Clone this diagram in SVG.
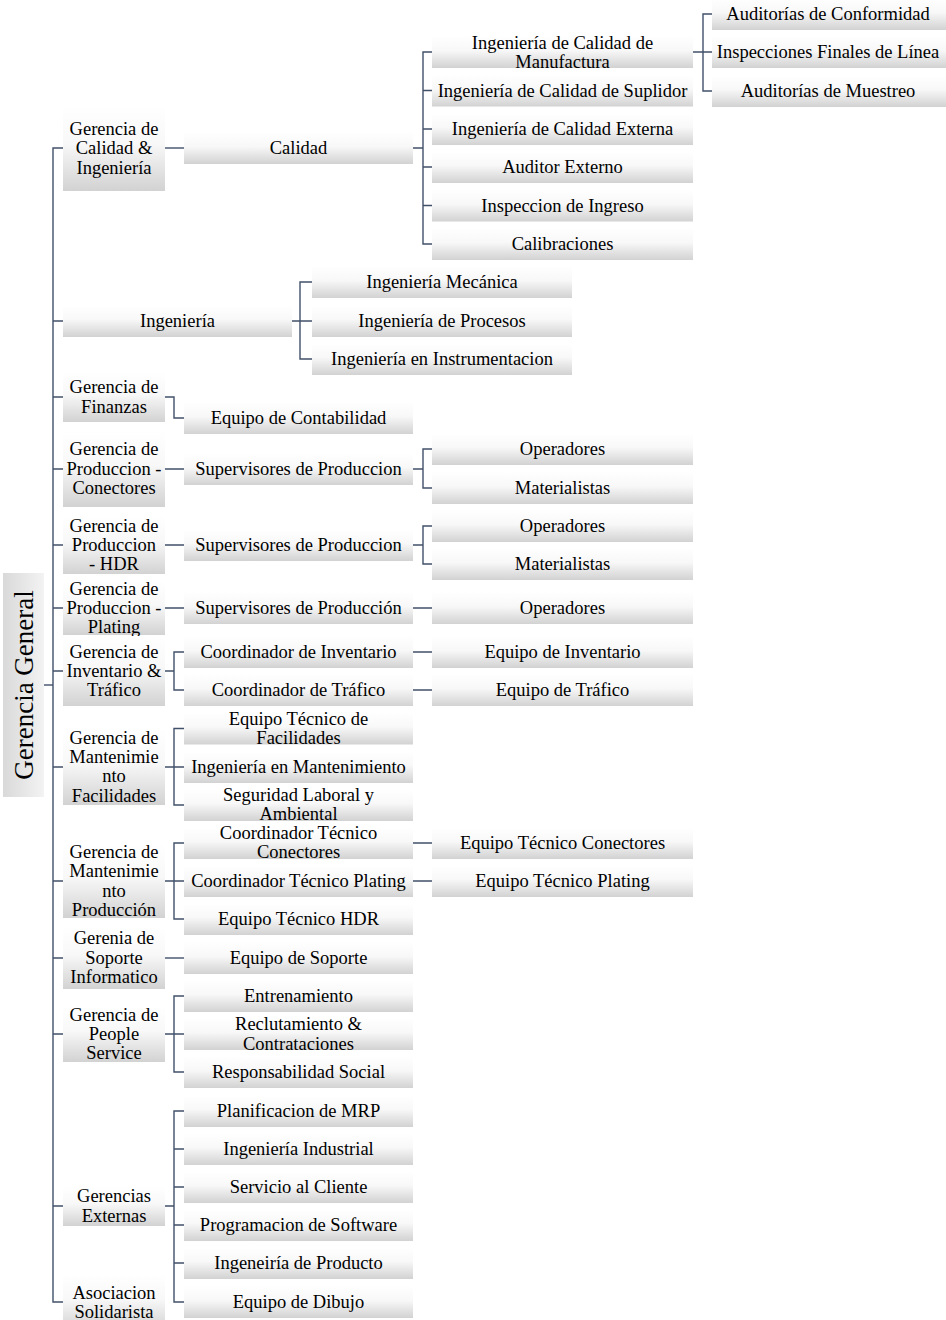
<svg xmlns="http://www.w3.org/2000/svg" width="946" height="1320" viewBox="0 0 946 1320">
  <defs>
    <linearGradient id="boxFill" x1="0" y1="0" x2="0" y2="1">
      <stop offset="0" stop-color="#ffffff"/>
      <stop offset="0.45" stop-color="#f8f8f8"/>
      <stop offset="1" stop-color="#d2d2d2"/>
    </linearGradient>
    <linearGradient id="rootFill" x1="0" y1="0" x2="1" y2="0">
      <stop offset="0" stop-color="#d9d9d9"/>
      <stop offset="1" stop-color="#f3f3f3"/>
    </linearGradient>
    <style>
      .box { fill: url(#boxFill); }
      .root { fill: url(#rootFill); }
      .t { font-family: "Liberation Serif", "Times New Roman", serif; font-size: 18.5px; fill: #000; text-anchor: middle; }
      .rt { font-family: "Liberation Serif", "Times New Roman", serif; font-size: 27px; fill: #000; text-anchor: middle; }
      .c { stroke: #41506a; stroke-width: 1.4; fill: none; }
    </style>
  </defs>
  <rect width="946" height="1320" fill="#ffffff"/>

  <!-- connectors -->
  <g id="connectors" class="c">
    <path d="M44,685 H53"/>
    <path d="M63,148 H53 V1302 H63"/>
    <path d="M53,321 H63 M53,397 H63 M53,469 H63 M53,545 H63 M53,608 H63 M53,671 H63 M53,767 H63 M53,881 H63 M53,958 H63 M53,1034 H63 M53,1206 H63"/>
    <!-- Calidad branch -->
    <path d="M165,148 H184"/>
    <path d="M413,148 H423 M432,52 H423 V244 H432 M423,90.5 H432 M423,129 H432 M423,167 H432 M423,205.5 H432"/>
    <path d="M693,52 H703 M712,14 H703 V91 H712 M703,52 H712"/>
    <!-- Ingenieria -->
    <path d="M292,321 H300 M312,282 H300 V359 H312 M300,321 H312"/>
    <!-- Finanzas -->
    <path d="M165,397 H174 V418 H184"/>
    <!-- Produccion Conectores -->
    <path d="M165,469 H184 M413,469 H423 M432,449 H423 V488 H432"/>
    <!-- Produccion HDR -->
    <path d="M165,545 H184 M413,545 H423 M432,526 H423 V564 H432"/>
    <!-- Produccion Plating -->
    <path d="M165,608 H184 M413,608 H432"/>
    <!-- Inventario y Trafico -->
    <path d="M165,671 H174 M184,652 H174 V690 H184 M413,652 H432 M413,690 H432"/>
    <!-- Mantenimiento Facilidades -->
    <path d="M165,767 H184 M184,728.5 H174 V805 H184"/>
    <!-- Mantenimiento Produccion -->
    <path d="M165,881 H184 M184,843 H174 V919 H184 M413,843 H432 M413,881 H432"/>
    <!-- Soporte -->
    <path d="M165,958 H184"/>
    <!-- People Service -->
    <path d="M165,1034 H184 M184,996 H174 V1072 H184"/>
    <!-- Gerencias Externas -->
    <path d="M165,1206 H174 M184,1111 H174 V1302 H184 M174,1149 H184 M174,1187 H184 M174,1225 H184 M174,1263 H184"/>
  </g>

  <!-- root -->
  <g id="n-gerencia-general">
    <rect class="root" x="3" y="573" width="41" height="224"/>
    <text class="rt" transform="translate(23.5,685) rotate(-90)" x="0" y="9">Gerencia General</text>
  </g>

  <!-- level 1 -->
  <g id="n-calidad-ingenieria">
    <rect class="box" x="63" y="105" width="102" height="86"/>
    <text class="t" x="114"><tspan x="114" y="135">Gerencia de</tspan><tspan x="114" y="154">Calidad &amp;</tspan><tspan x="114" y="174">Ingeniería</tspan></text>
  </g>
  <g id="n-ingenieria">
    <rect class="box" x="63" y="305" width="229" height="32"/>
    <text class="t" x="177.5" y="327">Ingeniería</text>
  </g>
  <g id="n-finanzas">
    <rect class="box" x="63" y="372" width="102" height="50"/>
    <text class="t"><tspan x="114" y="393">Gerencia de</tspan><tspan x="114" y="413">Finanzas</tspan></text>
  </g>
  <g id="n-prod-conectores">
    <rect class="box" x="63" y="431" width="102" height="76"/>
    <text class="t"><tspan x="114" y="455">Gerencia de</tspan><tspan x="114" y="475">Produccion -</tspan><tspan x="114" y="494">Conectores</tspan></text>
  </g>
  <g id="n-prod-hdr">
    <rect class="box" x="63" y="516" width="102" height="58"/>
    <text class="t"><tspan x="114" y="532">Gerencia de</tspan><tspan x="114" y="551">Produccion</tspan><tspan x="114" y="570">- HDR</tspan></text>
  </g>
  <g id="n-prod-plating">
    <rect class="box" x="63" y="581" width="102" height="54"/>
    <text class="t"><tspan x="114" y="595">Gerencia de</tspan><tspan x="114" y="614">Produccion -</tspan><tspan x="114" y="633">Plating</tspan></text>
  </g>
  <g id="n-inventario-trafico">
    <rect class="box" x="63" y="636" width="102" height="70"/>
    <text class="t"><tspan x="114" y="658">Gerencia de</tspan><tspan x="114" y="677">Inventario &amp;</tspan><tspan x="114" y="696">Tráfico</tspan></text>
  </g>
  <g id="n-mant-facilidades">
    <rect class="box" x="63" y="729" width="102" height="76"/>
    <text class="t"><tspan x="114" y="744">Gerencia de</tspan><tspan x="114" y="763">Mantenimie</tspan><tspan x="114" y="782">nto</tspan><tspan x="114" y="802">Facilidades</tspan></text>
  </g>
  <g id="n-mant-produccion">
    <rect class="box" x="63" y="844" width="102" height="74"/>
    <text class="t"><tspan x="114" y="858">Gerencia de</tspan><tspan x="114" y="877">Mantenimie</tspan><tspan x="114" y="897">nto</tspan><tspan x="114" y="916">Producción</tspan></text>
  </g>
  <g id="n-soporte">
    <rect class="box" x="63" y="927" width="102" height="62"/>
    <text class="t"><tspan x="114" y="944">Gerenia de</tspan><tspan x="114" y="964">Soporte</tspan><tspan x="114" y="983">Informatico</tspan></text>
  </g>
  <g id="n-people">
    <rect class="box" x="63" y="1006" width="102" height="56"/>
    <text class="t"><tspan x="114" y="1021">Gerencia de</tspan><tspan x="114" y="1040">People</tspan><tspan x="114" y="1059">Service</tspan></text>
  </g>
  <g id="n-externas">
    <rect class="box" x="63" y="1186" width="102" height="40"/>
    <text class="t"><tspan x="114" y="1202">Gerencias</tspan><tspan x="114" y="1222">Externas</tspan></text>
  </g>
  <g id="n-asociacion">
    <rect class="box" x="63" y="1274" width="102" height="56"/>
    <text class="t"><tspan x="114" y="1299">Asociacion</tspan><tspan x="114" y="1318">Solidarista</tspan></text>
  </g>

  <!-- level 2 -->
  <g id="n-calidad"><rect class="box" x="184" y="132" width="229" height="32"/><text class="t" x="298.5" y="154">Calidad</text></g>
  <g id="n-ing-mecanica"><rect class="box" x="312" y="266" width="260" height="32"/><text class="t" x="442" y="288">Ingeniería Mecánica</text></g>
  <g id="n-ing-procesos"><rect class="box" x="312" y="305" width="260" height="32"/><text class="t" x="442" y="327">Ingeniería de Procesos</text></g>
  <g id="n-ing-instrumentacion"><rect class="box" x="312" y="343" width="260" height="32"/><text class="t" x="442" y="365">Ingeniería en Instrumentacion</text></g>
  <g id="n-contabilidad"><rect class="box" x="184" y="402" width="229" height="32"/><text class="t" x="298.5" y="424">Equipo de Contabilidad</text></g>
  <g id="n-sup-conectores"><rect class="box" x="184" y="453" width="229" height="32"/><text class="t" x="298.5" y="475">Supervisores de Produccion</text></g>
  <g id="n-sup-hdr"><rect class="box" x="184" y="529" width="229" height="32"/><text class="t" x="298.5" y="551">Supervisores de Produccion</text></g>
  <g id="n-sup-plating"><rect class="box" x="184" y="592" width="229" height="32"/><text class="t" x="298.5" y="614">Supervisores de Producción</text></g>
  <g id="n-coord-inventario"><rect class="box" x="184" y="636" width="229" height="32"/><text class="t" x="298.5" y="658">Coordinador de Inventario</text></g>
  <g id="n-coord-trafico"><rect class="box" x="184" y="674" width="229" height="32"/><text class="t" x="298.5" y="696">Coordinador de Tráfico</text></g>
  <g id="n-eq-facilidades"><rect class="box" x="184" y="712.5" width="229" height="32"/><text class="t"><tspan x="298.5" y="725">Equipo Técnico de</tspan><tspan x="298.5" y="744">Facilidades</tspan></text></g>
  <g id="n-ing-mantenimiento"><rect class="box" x="184" y="751" width="229" height="32"/><text class="t" x="298.5" y="773">Ingeniería en Mantenimiento</text></g>
  <g id="n-seguridad"><rect class="box" x="184" y="789" width="229" height="32"/><text class="t"><tspan x="298.5" y="801">Seguridad Laboral y</tspan><tspan x="298.5" y="820">Ambiental</tspan></text></g>
  <g id="n-coord-conectores"><rect class="box" x="184" y="827" width="229" height="32"/><text class="t"><tspan x="298.5" y="839">Coordinador Técnico</tspan><tspan x="298.5" y="858">Conectores</tspan></text></g>
  <g id="n-coord-plating"><rect class="box" x="184" y="865" width="229" height="32"/><text class="t" x="298.5" y="887">Coordinador Técnico Plating</text></g>
  <g id="n-eq-hdr"><rect class="box" x="184" y="903" width="229" height="32"/><text class="t" x="298.5" y="925">Equipo Técnico HDR</text></g>
  <g id="n-eq-soporte"><rect class="box" x="184" y="942" width="229" height="32"/><text class="t" x="298.5" y="964">Equipo de Soporte</text></g>
  <g id="n-entrenamiento"><rect class="box" x="184" y="980" width="229" height="32"/><text class="t" x="298.5" y="1002">Entrenamiento</text></g>
  <g id="n-reclutamiento"><rect class="box" x="184" y="1018" width="229" height="32"/><text class="t"><tspan x="298.5" y="1030">Reclutamiento &amp;</tspan><tspan x="298.5" y="1050">Contrataciones</tspan></text></g>
  <g id="n-responsabilidad"><rect class="box" x="184" y="1056" width="229" height="32"/><text class="t" x="298.5" y="1078">Responsabilidad Social</text></g>
  <g id="n-mrp"><rect class="box" x="184" y="1095" width="229" height="32"/><text class="t" x="298.5" y="1117">Planificacion de MRP</text></g>
  <g id="n-industrial"><rect class="box" x="184" y="1133" width="229" height="32"/><text class="t" x="298.5" y="1155">Ingeniería Industrial</text></g>
  <g id="n-cliente"><rect class="box" x="184" y="1171" width="229" height="32"/><text class="t" x="298.5" y="1193">Servicio al Cliente</text></g>
  <g id="n-software"><rect class="box" x="184" y="1209" width="229" height="32"/><text class="t" x="298.5" y="1231">Programacion de Software</text></g>
  <g id="n-producto"><rect class="box" x="184" y="1247" width="229" height="32"/><text class="t" x="298.5" y="1269">Ingeneiría de Producto</text></g>
  <g id="n-dibujo"><rect class="box" x="184" y="1286" width="229" height="32"/><text class="t" x="298.5" y="1308">Equipo de Dibujo</text></g>

  <!-- level 3 -->
  <g id="n-cal-manufactura"><rect class="box" x="432" y="36" width="261" height="32"/><text class="t"><tspan x="562.5" y="49">Ingeniería de Calidad de</tspan><tspan x="562.5" y="68">Manufactura</tspan></text></g>
  <g id="n-cal-suplidor"><rect class="box" x="432" y="74.5" width="261" height="32"/><text class="t" x="562.5" y="97">Ingeniería de Calidad de Suplidor</text></g>
  <g id="n-cal-externa"><rect class="box" x="432" y="113" width="261" height="32"/><text class="t" x="562.5" y="135">Ingeniería de Calidad Externa</text></g>
  <g id="n-auditor-externo"><rect class="box" x="432" y="151" width="261" height="32"/><text class="t" x="562.5" y="173">Auditor Externo</text></g>
  <g id="n-inspeccion-ingreso"><rect class="box" x="432" y="189.5" width="261" height="32"/><text class="t" x="562.5" y="212">Inspeccion de Ingreso</text></g>
  <g id="n-calibraciones"><rect class="box" x="432" y="228" width="261" height="32"/><text class="t" x="562.5" y="250">Calibraciones</text></g>
  <g id="n-operadores-con"><rect class="box" x="432" y="433" width="261" height="32"/><text class="t" x="562.5" y="455">Operadores</text></g>
  <g id="n-materialistas-con"><rect class="box" x="432" y="472" width="261" height="32"/><text class="t" x="562.5" y="494">Materialistas</text></g>
  <g id="n-operadores-hdr"><rect class="box" x="432" y="510" width="261" height="32"/><text class="t" x="562.5" y="532">Operadores</text></g>
  <g id="n-materialistas-hdr"><rect class="box" x="432" y="548" width="261" height="32"/><text class="t" x="562.5" y="570">Materialistas</text></g>
  <g id="n-operadores-pla"><rect class="box" x="432" y="592" width="261" height="32"/><text class="t" x="562.5" y="614">Operadores</text></g>
  <g id="n-eq-inventario"><rect class="box" x="432" y="636" width="261" height="32"/><text class="t" x="562.5" y="658">Equipo de Inventario</text></g>
  <g id="n-eq-trafico"><rect class="box" x="432" y="674" width="261" height="32"/><text class="t" x="562.5" y="696">Equipo de Tráfico</text></g>
  <g id="n-eq-tec-conectores"><rect class="box" x="432" y="827" width="261" height="32"/><text class="t" x="562.5" y="849">Equipo Técnico Conectores</text></g>
  <g id="n-eq-tec-plating"><rect class="box" x="432" y="865" width="261" height="32"/><text class="t" x="562.5" y="887">Equipo Técnico Plating</text></g>

  <!-- level 4 -->
  <g id="n-aud-conformidad"><rect class="box" x="712" y="-2" width="234" height="32"/><text class="t" x="828" y="20">Auditorías de Conformidad</text></g>
  <g id="n-insp-finales"><rect class="box" x="712" y="36" width="234" height="32"/><text class="t" x="828" y="58">Inspecciones Finales de Línea</text></g>
  <g id="n-aud-muestreo"><rect class="box" x="712" y="75" width="234" height="32"/><text class="t" x="828" y="97">Auditorías de Muestreo</text></g>
</svg>
